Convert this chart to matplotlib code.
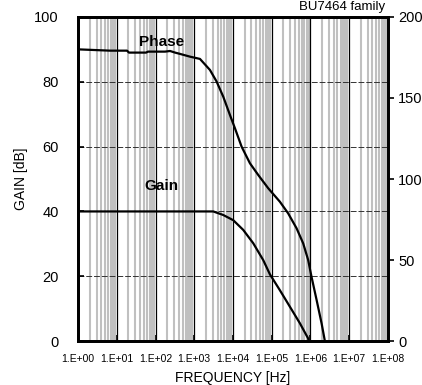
import numpy as np
import matplotlib.pyplot as plt

# (frequency in Hz)
gain_freq = [1, 10, 100, 1000, 3100, 5620, 10190, 18450, 33400, 60500, 90100,
             163000, 296000, 536000, 877000, 900000]
gain_db = [40, 40, 40, 40, 40, 38.9, 37.3, 34.3, 30.2, 25.0, 20.6,
           15.7, 10.6, 5.5, 0.8, 0]

phase_freq = [1, 6.7, 18.4, 20.6, 57, 64, 176, 237, 320, 429, 777, 1407, 2547, 3793,
              5620, 8370, 11270, 16780, 27500, 45000, 81500, 163000, 267000, 440000,
              652000, 877000, 1070000, 1450000, 1950000, 2370000]
phase_deg = [180, 179.2, 179.2, 178, 178, 178.6, 178.6, 179, 178, 177.2, 175.5, 174.1, 167.3, 160.1,
             150.8, 139.5, 131.3, 119.9, 109.7, 102.5, 94.3, 86.0, 78.8, 69.6,
             60.3, 50.0, 39.7, 25.3, 10.9, 0]

xticks = [1e0, 1e1, 1e2, 1e3, 1e4, 1e5, 1e6, 1e7, 1e8]
xtick_labels = ['1.E+00', '1.E+01', '1.E+02', '1.E+03', '1.E+04', '1.E+05', '1.E+06', '1.E+07', '1.E+08']

plt.rcParams['font.family'] = ['Liberation Sans', 'DejaVu Sans']

fig = plt.figure(figsize=(4.22, 3.85), dpi=100)
ax = fig.add_axes([0.185, 0.114, 0.734, 0.842])
ax.set_xscale('log')
ax.set_xlim(1, 1e8)
ax.set_ylim(0, 100)

# minor grid (gray) and decade lines (black)
minors = [m * 10.0 ** d for d in range(8) for m in range(2, 10)]
for f in minors:
    ax.axvline(f, color='#c0c0c0', lw=1.5, zorder=0)
for f in xticks[1:-1]:
    ax.axvline(f, color='black', lw=0.9, zorder=1)
for g in [20, 40, 60, 80]:
    ax.axhline(g, color='#333333', lw=0.7, ls=(0, (6, 2)), zorder=1)

ax.plot(gain_freq, gain_db, color='black', lw=1.6, zorder=3)

ax2 = ax.twinx()
ax2.set_ylim(0, 200)
ax2.plot(phase_freq, phase_deg, color='black', lw=1.6, zorder=3)
ax2.set_yticks([0, 50, 100, 150, 200])
ax2.tick_params(axis='y', direction='out', length=4, width=1.2, labelsize=10.5)

ax.set_xticks(xticks)
ax.set_xticklabels(xtick_labels)
ax.xaxis.set_minor_locator(plt.NullLocator())
ax.tick_params(axis='x', direction='in', length=4, width=1.2, labelsize=7.5, pad=9)
ax.set_yticks([0, 20, 40, 60, 80, 100])
ax.tick_params(axis='y', direction='in', length=4, width=1.2, labelsize=10.5, pad=14)

for a in (ax, ax2):
    for s in a.spines.values():
        s.set_linewidth(2)

ax.set_ylabel('GAIN [dB]', fontsize=10)
ax.set_xlabel('FREQUENCY [Hz]', fontsize=10, labelpad=5)

ax.text(140, 92.3, 'Phase', fontsize=11, fontweight='bold', ha='center', va='center', zorder=5)
ax.text(140, 47.8, 'Gain', fontsize=11, fontweight='bold', ha='center', va='center', zorder=5)
fig.text(0.912, 0.981, 'BU7464 family', fontsize=9.5, ha='right', va='center')

fig.savefig('out.png', dpi=100)
